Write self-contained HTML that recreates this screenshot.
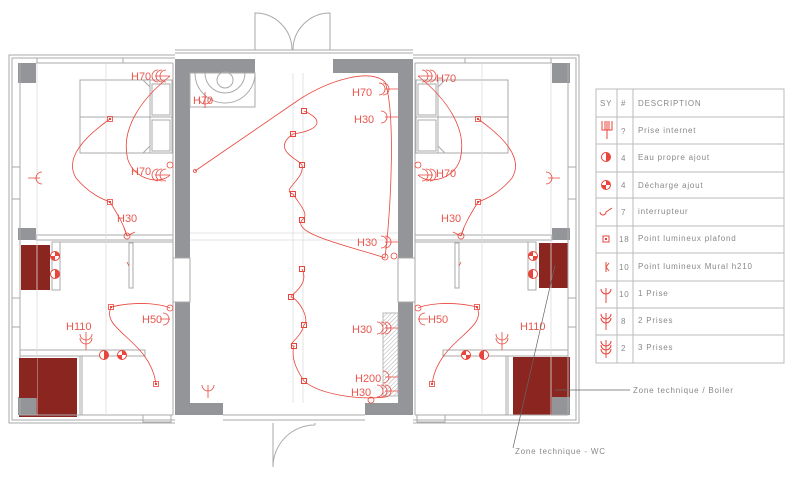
<!DOCTYPE html>
<html><head><meta charset="utf-8"><style>
html,body{margin:0;padding:0;background:#fff;width:800px;height:488px;overflow:hidden}
svg{display:block}
.t{font-family:"Liberation Sans",sans-serif;font-size:11px;fill:#e8574d}
.g{font-family:"Liberation Sans",sans-serif;font-size:8px;fill:#888;letter-spacing:0.8px}
</style></head><body>
<svg width="800" height="488" viewBox="0 0 800 488" xmlns="http://www.w3.org/2000/svg">
<defs>
<pattern id="h" width="3" height="3" patternUnits="userSpaceOnUse" patternTransform="rotate(45)"><line x1="0" y1="0" x2="0" y2="3" stroke="#999" stroke-width="0.8"/></pattern>
<g id="wh"><circle r="4.5" fill="#fff" stroke="#e8453c" stroke-width="1"/><path d="M0,-4.5A4.5,4.5 0 0 1 0,4.5Z" fill="#e8453c"/></g>
<g id="wd"><circle r="4.5" fill="#fff" stroke="#e8453c" stroke-width="1"/><path d="M0,-4.5A4.5,4.5 0 0 1 4.5,0H0Z M0,0H-4.5A4.5,4.5 0 0 0 0,4.5Z" fill="#e8453c"/></g>
<g id="half">
 <g fill="#939598">
  <rect x="18" y="63" width="18" height="20"/>
  <rect x="18" y="228" width="18" height="12"/>
  <rect x="18" y="397" width="18" height="18"/>
  <rect x="175" y="59" width="15" height="199"/>
  <rect x="175" y="302" width="15" height="113"/>
  <rect x="175" y="59" width="80" height="14"/>
  <rect x="175" y="403" width="48" height="12"/>
 </g>
 <g fill="none" stroke="#aaa" stroke-width="1">
  <path d="M175,55H9V423H175M175,58H12V420H175"/>
  <path d="M20,63V415H173M36,63H173M173,63V415"/>
  <path d="M175,50H294M175,53H294M223,420H294M223,415H294"/>
  <rect x="37" y="58" width="86" height="5"/>
  <rect x="12" y="167" width="8" height="32"/>
  <rect x="12" y="298" width="8" height="29"/>
  <rect x="36" y="235" width="137" height="5"/>
  <rect x="52" y="242" width="8" height="48"/>
  <path d="M60,242H173"/>
  <rect x="129" y="243" width="4" height="45"/>
  <rect x="20" y="350" width="125" height="6"/>
  <path d="M80,356V415M82,356V415"/>
  <rect x="143" y="415" width="28" height="7"/>
  <rect x="173" y="258" width="17" height="44"/>
  <rect x="80" y="80" width="92" height="73"/>
  <path d="M80,117H172M150,80V153M150,87L143,80M150,146L143,153"/>
  <rect x="152" y="84" width="18" height="31"/><rect x="152" y="120" width="18" height="31"/>
 </g>
 <g fill="none" stroke="#ddd" stroke-width="0.8">
  <path d="M37,63V415M106,63V415M190,233H294M190,240H294"/>
 </g>
 <g fill="none" stroke="#e8453c" stroke-width="0.8">
  <path d="M110,119C80,140 65,160 76,178C90,195 105,200 110,202C118,215 124,225 127,236"/>
  <path d="M170,76C140,100 120,130 128,160C135,180 160,185 170,175"/>
  <path d="M111,307C100,330 150,340 156,384"/>
  <path d="M111,307C140,300 165,305 170,308"/>
  <path d="M40,178H28M42,172A6,6 0 0 0 42,184"/>
  <path d="M127,236L124,228M127,236L135,232"/>
  <circle cx="127" cy="236" r="3"/>
  <circle cx="170" cy="308" r="3"/>
  <circle cx="170" cy="165" r="3"/>
  <path d="M170,76H155M158,70A6,6 0 0 0 158,82M162,70A6,6 0 0 0 162,82M166,70A6,6 0 0 0 166,82"/>
  <path d="M170,175H155M158,169A6,6 0 0 0 158,181M162,169A6,6 0 0 0 162,181M166,169A6,6 0 0 0 166,181"/>
  <path d="M170,319H160M163,313A6,6 0 0 1 163,325"/>
  <path d="M86,350V332M80,334A6,6 0 0 0 92,334M80,338A6,6 0 0 0 92,338"/>
  <path d="M127,262l2,4"/>
  <rect x="107.5" y="116.5" width="5" height="5"/><rect x="107.5" y="199.5" width="5" height="5"/>
  <rect x="108.5" y="304.5" width="5" height="5"/><rect x="153.5" y="381.5" width="5" height="5"/>
 </g>
 <g fill="#e8453c">
  <rect x="109" y="118" width="2" height="2"/><rect x="109" y="201" width="2" height="2"/>
  <rect x="110" y="306" width="2" height="2"/><rect x="155" y="383" width="2" height="2"/>
 </g>
 <use href="#wd" x="55" y="256"/><use href="#wh" x="55" y="274"/>
 <use href="#wh" x="104" y="355"/><use href="#wd" x="122" y="355"/>
</g>
</defs>
<g fill="#8b2520">
 <rect x="21" y="245" width="29" height="45"/><rect x="19" y="358" width="58" height="59"/>
 <rect x="539" y="243" width="29" height="45"/><rect x="513" y="357" width="57" height="58"/>
</g>
<use href="#half"/>
<g transform="matrix(-1 0 0 1 588 0)"><use href="#half"/></g>
<rect x="19" y="358" width="18" height="40" fill="#8b2520"/>
<rect x="383" y="313" width="15" height="83" fill="url(#h)" stroke="#aaa" stroke-width="0.8"/>
<g fill="none" stroke="#aaa" stroke-width="1">
 <path d="M255,50V13A37,37 0 0 1 292,50M330,50V13A37,37 0 0 0 293,50"/>
 <path d="M273,423V467A42,42 0 0 1 315,425M315,423V425"/>
 <rect x="190" y="73" width="65" height="34"/>
 <circle cx="225" cy="80" r="8"/>
 <path d="M205,73A20,20 0 0 0 245,73M195,73A30,30 0 0 0 255,73"/>
</g>
<g fill="none" stroke="#ddd" stroke-width="0.8"><path d="M293,73V403M303,73V403"/></g>
<g fill="none" stroke="#e8453c" stroke-width="0.8">
 <path d="M195,171L300,99"/>
 <path d="M300,99C330,80 370,68 385,82C395,110 392,200 385,258"/>
 <path d="M304,111C325,120 320,130 293,134C270,150 300,160 302,165C305,180 280,190 293,194C300,205 310,215 302,220C290,235 365,250 385,258"/>
 <path d="M302,269C310,285 290,295 291,297C300,300 310,320 304,325C300,340 285,345 294,346C290,360 300,375 304,381C320,395 360,400 385,397"/>
 <path d="M208,398V385M202,385A6,6 0 0 0 214,385"/>
 <path d="M398,89H385M379,83A6,6 0 0 1 379,95M383,83A6,6 0 0 1 383,95"/>
 <path d="M398,117H385M381,111A6,6 0 0 1 381,123"/>
 <path d="M398,242H385M381,236A6,6 0 0 1 381,248M385,236A6,6 0 0 1 385,248"/>
 <path d="M398,328H385M377,322A6,6 0 0 1 377,334M381,322A6,6 0 0 1 381,334M385,322A6,6 0 0 1 385,334"/>
 <path d="M398,377H385M383,371A6,6 0 0 1 383,383"/>
 <path d="M398,391H385M377,385A6,6 0 0 1 377,397M381,385A6,6 0 0 1 381,397M385,385A6,6 0 0 1 385,397"/>
 <circle cx="385" cy="257" r="3"/><circle cx="394" cy="256" r="3"/><circle cx="371" cy="400" r="3"/>
 <path d="M205,108V92M199,98A6,6 0 0 0 211,98"/>
 <circle cx="195" cy="171" r="1.5"/>
</g>
<g fill="none" stroke="#e8453c" stroke-width="1">
 <rect x="301.5" y="108.5" width="5" height="5"/><rect x="290.5" y="131.5" width="5" height="5"/><rect x="299.5" y="162.5" width="5" height="5"/>
 <rect x="290.5" y="191.5" width="5" height="5"/><rect x="299.5" y="217.5" width="5" height="5"/><rect x="299.5" y="266.5" width="5" height="5"/>
 <rect x="288.5" y="294.5" width="5" height="5"/><rect x="301.5" y="322.5" width="5" height="5"/><rect x="291.5" y="343.5" width="5" height="5"/>
 <rect x="301.5" y="378.5" width="5" height="5"/>
</g>
<g class="t">
 <text x="131" y="80">H70</text><text x="193" y="104">H70</text><text x="131" y="175">H70</text>
 <text x="117" y="222">H30</text><text x="142" y="323">H50</text><text x="66" y="330">H110</text>
 <text x="352" y="96">H70</text><text x="354" y="123">H30</text><text x="357" y="246">H30</text>
 <text x="352" y="333">H30</text><text x="355" y="382">H200</text><text x="351" y="396">H30</text>
 <text x="436" y="82">H70</text><text x="436" y="177">H70</text><text x="441" y="222">H30</text>
 <text x="428" y="323">H50</text><text x="520" y="330">H110</text>
</g>
<g stroke="#666" stroke-width="0.7" fill="none"><path d="M555,390H630M513,448L555,265"/></g>
<text class="g" x="633" y="393" font-size="7">Zone technique / Boiler</text>
<text class="g" x="515" y="454" font-size="7">Zone technique - WC</text>
<g fill="none" stroke="#bbb" stroke-width="1">
 <rect x="596" y="89" width="188" height="274"/>
 <path d="M617,89V363M633,89V363M596,117H784M596,144H784M596,172H784M596,198H784M596,226H784M596,253H784M596,281H784M596,308H784M596,335H784"/>
</g>
<g class="g">
 <text x="600" y="106">SY</text><text x="621" y="106">#</text><text x="638" y="106">DESCRIPTION</text>
 <text x="621" y="134">?</text><text x="638" y="133">Prise internet</text>
 <text x="621" y="161">4</text><text x="638" y="160">Eau propre ajout</text>
 <text x="621" y="188">4</text><text x="638" y="188">Décharge ajout</text>
 <text x="621" y="215">7</text><text x="638" y="214">interrupteur</text>
 <text x="619" y="242">18</text><text x="638" y="241">Point lumineux plafond</text>
 <text x="619" y="270">10</text><text x="638" y="269">Point lumineux Mural h210</text>
 <text x="619" y="297">10</text><text x="638" y="296">1 Prise</text>
 <text x="621" y="324">8</text><text x="638" y="323">2 Prises</text>
 <text x="621" y="351">2</text><text x="638" y="350">3 Prises</text>
</g>
<g fill="none" stroke="#e8453c" stroke-width="1">
 <path d="M602,121V130H612V121M607,121V139M605,121V130M609,121V130"/>
 <path d="M600,212A3,3 0 1 0 606,212L612,208"/>
 <rect x="603" y="236" width="6" height="6"/>
 <path d="M606,262V272M606,267L609,263M606,267L609,271"/>
 <path d="M606,303V288M601,289A5,5 0 0 0 611,289"/>
 <path d="M606,330V313M601,314A5,5 0 0 0 611,314M601,318A5,5 0 0 0 611,318"/>
 <path d="M606,358V340M601,341A5,5 0 0 0 611,341M601,345A5,5 0 0 0 611,345M601,349A5,5 0 0 0 611,349"/>
</g>
<use href="#wh" x="606" y="157"/><use href="#wd" x="606" y="185"/>
<rect x="605" y="238" width="2" height="2" fill="#e8453c"/>
</svg>
</body></html>
